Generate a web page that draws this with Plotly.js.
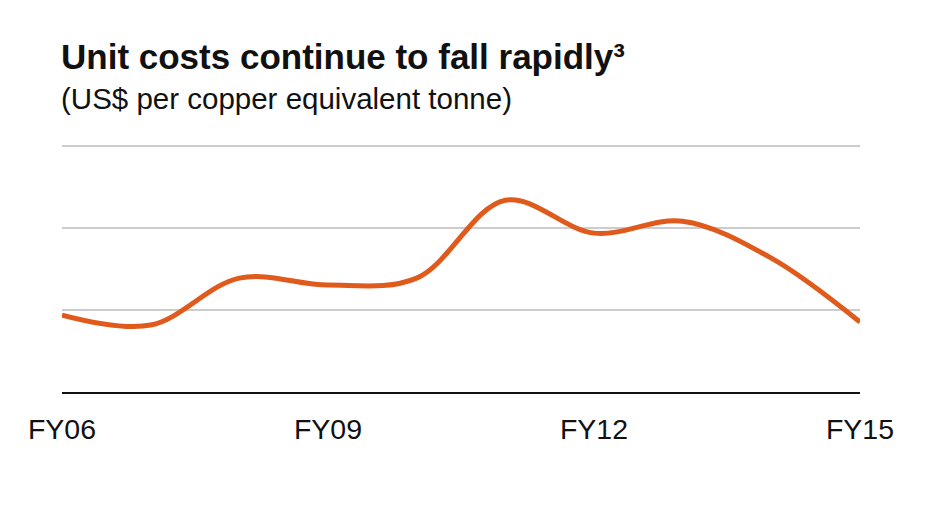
<!DOCTYPE html>
<html>
<head>
<meta charset="utf-8">
<script src="https://cdn.plot.ly/plotly-3.0.1.min.js"></script>
<style>html,body{margin:0;padding:0;background:#fff;}#chart{width:931px;height:506px;}</style>
</head>
<body>
<div id="chart"></div>
<script>
// Fiscal years (categories)
const years = ["FY06","FY07","FY08","FY09","FY10","FY11","FY12","FY13","FY14","FY15"];
// Unit cost (relative scale; axis has no labels)
const unitCost = [939, 817, 1390, 1305, 1390, 2341, 1939, 2085, 1634, 854];
// Labelled ticks
const tickYears = ["FY06","FY09","FY12","FY15"];
const gridVals = [1000, 2000, 3000];

const trace = {
  x: years,
  y: unitCost,
  type: "scatter",
  mode: "lines",
  line: {shape: "spline", smoothing: 1, color: "#E05A1B", width: 5},
  hoverinfo: "skip"
};

const layout = {
  width: 931, height: 506,
  margin: {l: 62, r: 71, t: 138, b: 114},
  paper_bgcolor: "#ffffff",
  plot_bgcolor: "#ffffff",
  showlegend: false,
  font: {family: "Liberation Sans, Arial, sans-serif", color: "#111"},
  xaxis: {
    type: "category",
    categoryorder: "array",
    categoryarray: years,
    range: [0, years.length - 1],
    tickmode: "array",
    tickvals: tickYears,
    ticktext: tickYears,
    tickfont: {size: 28.5, color: "#111"},
    showgrid: false,
    zeroline: false,
    showline: true,
    linecolor: "#111",
    linewidth: 2,
    ticks: "",
    ticklabelstandoff: 11
  },
  yaxis: {
    range: [0, 3100],
    tickmode: "array",
    tickvals: gridVals,
    showticklabels: false,
    showgrid: true,
    gridcolor: "#cccccc",
    gridwidth: 2,
    zeroline: false,
    showline: false,
    ticks: ""
  },
  annotations: [
    {text: "<b>Unit costs continue to fall rapidly³</b>", xref: "paper", yref: "paper",
     x: -0.004, y: 1.319, xanchor: "left", yanchor: "middle", showarrow: false,
     font: {size: 35, color: "#111", family: "Liberation Sans, Arial, sans-serif"}},
    {text: "(US$ per copper equivalent tonne)", xref: "paper", yref: "paper",
     x: -0.004, y: 1.157, xanchor: "left", yanchor: "middle", showarrow: false,
     font: {size: 29.5, color: "#111", family: "Liberation Sans, Arial, sans-serif"}}
  ]
};

Plotly.newPlot("chart", [trace], layout, {displayModeBar: false, staticPlot: true});
</script>
</body>
</html>
